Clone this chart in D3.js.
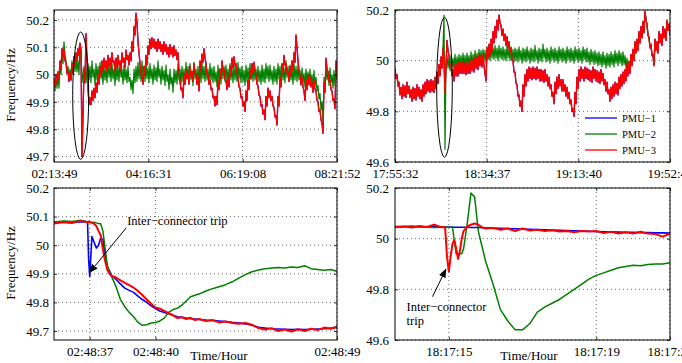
<!DOCTYPE html>
<html><head><meta charset="utf-8">
<script src="https://cdn.jsdelivr.net/npm/d3@7"></script>
<style>
body{margin:0;background:#fff}
svg{display:block}
text{font-family:"Liberation Serif","Times New Roman",serif;fill:#000}
</style>
</head><body>
<svg id="chart" width="682" height="363"></svg>
<script>
// ---------------- data ----------------
const seriesNames = ["PMU\u22121", "PMU\u22122", "PMU\u22123"];

// Top-left: long record, one sample per pixel column (noisy band)
const tlTickLabels = ["02:13:49", "04:16:31", "06:19:08", "08:21:52"];
const tlYTicks = [49.7, 49.8, 49.9, 50, 50.1, 50.2];
const tlPmu3 = [
49.985,49.955,50.0,49.965,50.01,49.985,50.05,50.02,50.095,50.065,50.09,50.05,50.045,50.005,50.01,49.975,
50.005,49.98,50.04,50.005,50.065,50.035,50.08,50.05,50.095,50.07,50.115,50.09,49.70,49.85,50.02,49.97,
50.15,50.05,49.95,49.89,49.915,49.89,49.94,49.905,49.95,49.915,49.97,49.935,50.0,49.965,50.03,49.995,
50.05,50.01,50.06,50.025,50.05,50.01,50.07,50.03,50.06,50.02,50.08,50.045,50.05,50.01,50.06,50.025,
50.07,50.035,50.05,50.015,50.08,50.045,50.06,50.025,50.09,50.055,50.07,50.035,50.08,50.05,50.12,50.085,
50.175,50.145,50.225,50.19,50.12,50.08,50.04,50.0,49.995,49.965,50.03,49.995,50.07,50.035,50.105,50.075,
50.13,50.095,50.135,50.1,50.13,50.095,50.12,50.085,50.13,50.095,50.12,50.085,50.11,50.075,50.12,50.085,
50.11,50.075,50.1,50.065,50.11,50.075,50.1,50.065,50.105,50.07,50.09,50.055,50.08,50.01,49.975,49.945,
49.95,49.915,50.0,49.965,50.02,49.985,50.0,49.965,50.03,49.995,50.01,49.975,50.04,50.005,50.0,49.965,
49.99,49.94,50.05,50.015,50.075,50.045,50.095,50.06,50.04,50.0,50.0,49.965,49.98,49.945,49.95,49.915,
49.92,49.885,49.92,49.89,49.98,49.945,50.02,49.985,50.05,50.015,50.02,49.985,49.98,49.945,49.99,49.955,
50.03,49.995,50.06,50.025,50.065,50.035,50.04,50.005,49.99,49.955,49.95,49.915,49.92,49.885,49.9,49.865,
49.94,49.905,49.98,49.945,50.02,49.985,50.04,50.005,50.045,50.015,50.0,49.965,49.96,49.925,49.92,49.885,
49.89,49.855,49.87,49.835,49.92,49.885,49.95,49.915,49.94,49.905,49.92,49.885,49.88,49.845,49.85,49.815,
49.92,49.885,49.99,49.955,50.04,50.005,50.07,50.035,50.04,50.005,50.01,49.975,50.03,49.995,50.05,50.015,
50.08,50.045,50.145,50.1,50.05,50.015,50.0,49.965,49.99,49.955,49.94,49.905,49.98,49.945,50.0,49.965,
49.99,49.955,49.97,49.935,49.98,49.945,49.94,49.905,49.9,49.865,49.87,49.835,49.82,49.785,49.97,49.935,
50.06,50.02,50.01,49.975,49.98,49.945,49.94,49.905,49.91,49.875,50.05,50.015];
const tlPmu2 = [
49.98,49.94,49.99,49.95,49.995,49.95,50.04,50.0,50.08,50.04,50.12,50.07,50.05,50.01,50.03,49.99,
50.02,49.98,50.05,50.0,50.05,50.01,50.06,50.01,50.05,50.0,50.11,50.05,50.01,49.97,50.03,49.98,
50.02,49.97,50.04,49.98,50.03,49.97,50.05,49.99,50.02,49.96,50.04,49.98,50.03,49.975,50.045,49.985,
50.02,49.965,50.035,49.98,50.025,49.97,50.05,49.99,50.03,49.975,50.04,49.985,50.02,49.96,50.035,49.98,
50.03,49.975,50.045,49.99,50.02,49.965,50.035,49.98,50.02,49.97,50.03,49.975,49.99,49.945,49.98,49.93,
50.02,49.97,50.03,49.975,50.045,49.985,50.03,49.975,50.05,49.99,50.03,49.975,50.04,49.985,50.025,49.97,
50.04,49.985,50.02,49.965,50.035,49.98,50.025,49.975,50.05,49.99,50.02,49.965,50.03,49.98,50.015,49.96,
50.035,49.975,50.0,49.945,50.02,49.965,49.99,49.935,50.02,49.97,50.015,49.965,50.04,49.98,50.02,49.965,
50.03,49.975,50.02,49.965,50.045,49.985,50.03,49.975,50.04,49.98,50.015,49.96,50.045,49.985,50.02,49.965,
50.03,49.975,50.025,49.97,50.045,49.985,50.03,49.975,50.04,49.98,50.02,49.965,50.04,49.98,50.025,49.97,
50.03,49.975,50.01,49.955,50.035,49.975,50.02,49.965,50.045,49.985,50.03,49.975,50.035,49.98,50.02,49.965,
50.04,49.98,50.025,49.97,50.035,49.98,50.03,49.975,50.045,49.985,50.025,49.97,50.03,49.975,50.015,49.96,
50.035,49.975,50.025,49.97,50.04,49.985,50.03,49.975,50.035,49.98,50.02,49.97,50.03,49.975,50.015,49.965,
50.035,49.975,50.02,49.97,50.04,49.985,50.03,49.975,50.035,49.98,50.015,49.965,50.03,49.975,50.02,49.965,
50.04,49.985,50.03,49.975,50.035,49.98,50.025,49.97,50.05,49.99,50.03,49.975,50.035,49.98,50.02,49.965,
50.04,49.98,50.03,49.975,50.035,49.98,50.015,49.96,50.025,49.97,50.005,49.955,50.02,49.965,50.01,49.96,
50.02,49.965,50.0,49.95,50.015,49.96,49.99,49.94,49.96,49.91,49.93,49.87,49.9,49.83,49.99,49.94,
50.035,49.98,50.01,49.96,50.025,49.97,50.0,49.95,50.015,49.96,50.03,49.98];
const tlPmu1 = tlPmu3; // PMU-1 lies underneath PMU-3 in this record

// Top-right: long record, one sample per pixel column
const trTickLabels = ["17:55:32", "18:34:37", "19:13:40", "19:52:44"];
const trYTicks = [49.6, 49.8, 50, 50.2];
const trPmu3 = [
49.97,49.93,49.945,49.9,49.915,49.865,49.895,49.85,49.905,49.86,49.9,49.855,49.915,49.87,49.9,49.855,
49.885,49.84,49.895,49.85,49.89,49.845,49.905,49.86,49.895,49.85,49.885,49.84,49.905,49.86,49.915,49.87,
49.925,49.88,49.92,49.875,49.925,49.88,49.92,49.875,49.935,49.89,49.955,49.91,49.985,49.94,50.015,49.97,
50.05,50.01,49.87,49.98,50.08,50.04,50.02,49.98,49.985,49.94,49.965,49.92,49.985,49.94,49.985,49.94,
49.995,49.95,49.995,49.95,49.995,49.95,49.99,49.945,49.995,49.95,49.99,49.95,50.005,49.96,50.0,49.955,
50.015,49.97,50.01,49.965,50.025,49.98,50.02,49.975,50.025,49.98,49.95,49.92,50.05,50.01,50.065,50.02,
50.085,50.04,50.115,50.07,50.135,50.09,50.16,50.12,50.18,50.15,50.14,50.1,50.125,50.08,50.105,50.06,
50.095,50.05,50.075,50.03,50.05,50.005,50.0,49.955,49.955,49.91,49.905,49.86,49.865,49.82,49.84,49.8,
49.905,49.86,49.945,49.9,49.965,49.92,49.975,49.93,49.97,49.925,49.975,49.93,49.97,49.925,49.975,49.93,
49.965,49.92,49.965,49.92,49.96,49.915,49.965,49.92,49.945,49.9,49.935,49.89,49.905,49.86,49.875,49.83,
49.915,49.87,49.935,49.89,49.945,49.9,49.925,49.88,49.925,49.88,49.905,49.86,49.895,49.85,49.875,49.83,
49.845,49.8,49.81,49.78,49.875,49.83,49.935,49.89,49.965,49.92,49.975,49.93,49.965,49.92,49.975,49.93,
49.97,49.925,49.965,49.92,49.96,49.915,49.975,49.93,49.965,49.92,49.96,49.915,49.955,49.91,49.965,49.92,
49.95,49.905,49.925,49.88,49.915,49.87,49.885,49.84,49.895,49.85,49.905,49.86,49.915,49.87,49.91,49.865,
49.935,49.89,49.945,49.9,49.955,49.91,49.965,49.92,49.985,49.94,49.995,49.95,50.025,49.98,50.045,50.0,
50.075,50.03,50.085,50.04,50.115,50.07,50.135,50.09,50.155,50.11,50.195,50.16,50.145,50.1,50.095,50.05,
50.065,50.02,50.025,49.98,50.085,50.04,50.075,50.03,50.115,50.07,50.105,50.06,50.135,50.09,50.125,50.08,
50.16,50.12,50.145,50.1];
const trPmu2 = [
49.96,49.94,49.935,49.905,49.905,49.875,49.885,49.86,49.895,49.865,49.89,49.865,49.905,49.875,49.89,49.865,
49.875,49.85,49.885,49.855,49.88,49.855,49.895,49.865,49.885,49.86,49.875,49.85,49.895,49.865,49.905,49.875,
49.915,49.885,49.91,49.885,49.915,49.885,49.91,49.885,49.925,49.895,49.945,49.915,49.975,49.945,50.0,49.975,
50.05,50.18,49.65,49.99,50.02,49.97,50.01,49.96,50.02,49.975,50.01,49.965,50.025,49.975,50.015,49.97,
50.025,49.98,50.02,49.97,50.03,49.98,50.02,49.97,50.03,49.985,50.02,49.97,50.035,49.985,50.025,49.975,
50.04,49.99,50.03,49.985,50.045,49.995,50.04,49.99,50.045,50.0,50.04,49.99,50.055,50.005,50.05,50.0,
50.06,50.01,50.05,50.005,50.06,50.01,50.05,50.0,50.06,50.01,50.05,50.005,50.055,50.005,50.045,50.0,
50.06,50.01,50.05,50.0,50.055,50.005,50.045,49.995,50.05,50.0,50.045,49.995,50.055,50.005,50.04,49.99,
50.05,50.0,50.045,49.995,50.055,50.005,50.04,49.99,50.05,50.0,50.045,49.995,50.06,50.005,50.04,49.99,
50.05,50.0,50.045,49.995,50.065,50.01,50.045,49.995,50.05,50.0,50.04,49.99,50.055,50.005,50.045,49.995,
50.05,50.0,50.04,49.99,50.055,50.005,50.045,49.995,50.05,50.0,50.04,49.99,50.055,50.005,50.045,49.995,
50.05,50.0,50.04,49.99,50.055,50.005,50.045,49.995,50.05,50.0,50.04,49.99,50.055,50.005,50.045,49.995,
50.05,49.995,50.035,49.985,50.045,49.995,50.035,49.985,50.04,49.99,50.03,49.98,50.035,49.985,50.025,49.975,
50.035,49.985,50.02,49.97,50.03,49.98,50.025,49.975,50.035,49.985,50.025,49.975,50.04,49.99,50.03,49.98,
50.04,49.99,50.03,49.98,50.035,49.985,50.02,49.97,50.01,49.965,50.0,49.96,50.015,49.985,50.035,50.005,
50.065,50.035,50.075,50.045,50.105,50.075,50.125,50.095,50.145,50.115,50.19,50.165,50.135,50.105,50.085,50.055,
50.055,50.025,50.015,49.985,50.075,50.045,50.065,50.035,50.105,50.075,50.095,50.065,50.125,50.095,50.115,50.085,
50.155,50.125,50.135,50.105];
const trPmu1 = trPmu3;

// Bottom-left: event zoom (seconds past 02:48:00)
const blTickValues = [37, 40, 48.28];
const blTickLabels = ["02:48:37", "02:48:40", "02:48:49"];
const blYTicks = [49.7, 49.8, 49.9, 50, 50.1, 50.2];
const blTime = [35.3,35.8,36.2,36.6,36.9,36.95,37.0,37.1,37.2,37.3,
 37.4,37.5,37.6,37.7,37.8,37.9,38.0,38.2,38.4,38.6,
 38.8,39.0,39.2,39.4,39.6,39.8,40.0,40.2,40.4,40.6,
 40.8,41.0,41.2,41.4,41.6,41.8,42.0,42.3,42.6,42.9,
 43.2,43.5,43.8,44.1,44.4,44.7,45.0,45.3,45.6,45.9,
 46.2,46.5,46.8,47.1,47.4,47.7,48.0,48.3];
const blPmu1 = [50.08,50.081,50.079,50.082,50.08,49.95,49.89,50.03,50.01,49.99,
 50.0,50.025,50.02,49.965,49.925,49.91,49.895,49.88,49.865,49.85,
 49.842,49.835,49.822,49.81,49.80,49.788,49.778,49.77,49.765,49.76,
 49.755,49.75,49.748,49.745,49.743,49.742,49.74,49.738,49.737,49.735,
 49.733,49.73,49.728,49.725,49.72,49.713,49.71,49.708,49.707,49.706,
 49.705,49.706,49.705,49.706,49.707,49.708,49.71,49.713];
const blPmu2 = [50.08,50.085,50.083,50.087,50.082,50.083,50.08,50.08,50.08,50.078,
 50.076,50.075,50.05,49.99,49.93,49.905,49.89,49.855,49.81,49.785,
 49.765,49.75,49.73,49.72,49.722,49.728,49.73,49.735,49.745,49.765,
 49.775,49.78,49.79,49.805,49.82,49.825,49.83,49.84,49.848,49.855,
 49.862,49.872,49.885,49.897,49.907,49.913,49.918,49.92,49.922,49.92,
 49.924,49.922,49.928,49.918,49.915,49.912,49.915,49.908];
const blPmu3 = [50.075,50.08,50.078,50.085,50.08,50.082,50.08,50.078,50.075,50.067,
 50.05,50.035,49.986,49.945,49.915,49.9,49.892,49.887,49.877,49.868,
 49.86,49.852,49.84,49.826,49.81,49.795,49.782,49.778,49.77,49.762,
 49.755,49.745,49.748,49.742,49.746,49.738,49.742,49.735,49.738,49.73,
 49.733,49.728,49.725,49.728,49.722,49.71,49.705,49.71,49.7,49.705,
 49.698,49.706,49.7,49.708,49.703,49.712,49.708,49.716];

// Bottom-right: event zoom (seconds past 18:17:00)
const brTickValues = [15, 19, 21];
const brTickLabels = ["18:17:15", "18:17:19", "18:17:21"];
const brYTicks = [49.6, 49.8, 50, 50.2];
const brTime = [13.5,13.8,14.0,14.2,14.4,14.6,14.8,14.9,14.95,15.0,
 15.05,15.1,15.15,15.2,15.25,15.3,15.35,15.4,15.5,15.6,
 15.7,15.8,15.9,16.0,16.2,16.4,16.6,16.8,17.0,17.2,
 17.4,17.6,17.8,18.0,18.2,18.4,18.6,18.8,19.0,19.2,
 19.4,19.6,19.8,20.0,20.2,20.4,20.6,20.8,21.0];
const brPmu1 = [50.048,50.048,50.048,50.047,50.047,50.047,50.046,50.046,50.046,50.046,
 50.046,50.046,50.045,50.045,50.045,50.045,50.045,50.045,50.045,50.044,
 50.044,50.044,50.043,50.043,50.042,50.041,50.04,50.039,50.038,50.037,
 50.036,50.035,50.034,50.033,50.032,50.031,50.03,50.029,50.028,50.027,
 50.027,50.026,50.025,50.025,50.024,50.024,50.023,50.023,50.022];
const brPmu2 = [50.045,50.047,50.05,50.046,50.045,50.044,50.045,50.045,50.045,50.045,
 50.045,50.045,49.99,49.94,49.94,49.94,49.94,49.96,50.06,50.18,
 50.165,50.03,49.97,49.91,49.82,49.72,49.675,49.64,49.64,49.665,
 49.71,49.73,49.745,49.76,49.78,49.8,49.82,49.84,49.855,49.865,
 49.875,49.885,49.89,49.895,49.893,49.898,49.9,49.9,49.905];
const brPmu3 = [50.045,50.048,50.044,50.05,50.046,50.055,50.045,50.045,49.93,49.87,
 49.93,49.98,49.995,49.96,49.92,49.95,50.0,50.03,50.048,50.055,
 50.06,50.055,50.045,50.04,50.042,50.035,50.04,50.03,50.04,50.032,
 50.035,50.03,50.033,50.028,50.03,50.025,50.03,50.028,50.03,50.022,
 50.027,50.02,50.025,50.02,50.027,50.02,50.018,50.008,50.02];

// ---------------- drawing ----------------
const colors = ["#0000ff", "#008000", "#ff0000"];
const svg = d3.select("#chart");
const defs = svg.append("defs");
defs.append("marker").attr("id", "arrowhead").attr("viewBox", "0 0 10 10")
  .attr("refX", 9).attr("refY", 5).attr("markerWidth", 9).attr("markerHeight", 9)
  .attr("markerUnits", "userSpaceOnUse").attr("orient", "auto")
  .append("path").attr("d", "M0,1 L10,5 L0,9 z").attr("fill", "#000");

function panel(cfg) {
  const {id, x, y} = cfg;
  const [x0, x1] = x.range(), [y1, y0] = y.range();
  defs.append("clipPath").attr("id", "clip" + id).append("rect")
    .attr("x", x0).attr("y", y0).attr("width", x1 - x0).attr("height", y1 - y0);
  const g = svg.append("g");

  const grid = g.append("g").attr("stroke", "#444").attr("stroke-width", 0.8)
    .attr("stroke-dasharray", "1,3");
  grid.selectAll(".gx").data(cfg.xTicks).join("line")
    .attr("x1", d => x(d)).attr("x2", d => x(d)).attr("y1", y0).attr("y2", y1);
  grid.selectAll(".gy").data(cfg.yTicks).join("line")
    .attr("y1", d => y(d)).attr("y2", d => y(d)).attr("x1", x0).attr("x2", x1);

  const lines = g.append("g").attr("clip-path", `url(#clip${id})`);
  cfg.series.forEach((vals, k) => {
    const line = d3.line().x((d, i) => x(cfg.xs[i])).y(d => y(d));
    lines.append("path").datum(vals).attr("fill", "none")
      .attr("stroke", colors[k]).attr("stroke-width", cfg.widths[k])
      .attr("stroke-linejoin", "round").attr("d", line);
  });

  const fmt = (d, i) => cfg.xLabels[i];
  const ax = g.append("g").attr("transform", `translate(0,${y1})`)
    .call(d3.axisBottom(x).tickValues(cfg.xTicks).tickFormat(fmt).tickSize(-3).tickPadding(7));
  ax.selectAll("text").attr("y", 7).attr("dy", "0.71em");
  g.append("g").attr("transform", `translate(0,${y0})`)
    .call(d3.axisTop(x).tickValues(cfg.xTicks).tickFormat("").tickSize(-3));
  g.append("g").attr("transform", `translate(${x0},0)`)
    .call(d3.axisLeft(y).tickValues(cfg.yTicks).tickFormat(d => d3.format("")(+d.toFixed(1))).tickSize(-3).tickPadding(cfg.yPad));
  g.append("g").attr("transform", `translate(${x1},0)`)
    .call(d3.axisRight(y).tickValues(cfg.yTicks).tickFormat("").tickSize(-3));
  g.selectAll(".domain").remove();
  g.selectAll(".tick line").attr("stroke", "#000").attr("stroke-width", 0.8);
  g.selectAll(".tick text").attr("font-family", '"Liberation Serif", serif')
    .attr("font-size", 13).attr("fill", "#000");

  g.append("rect").attr("x", x0).attr("y", y0).attr("width", x1 - x0).attr("height", y1 - y0)
    .attr("fill", "none").attr("stroke", "#000").attr("stroke-width", 1);
  return g;
}

const tlX = d3.scaleLinear().domain([0, tlPmu3.length - 1]).range([54, 337]);
const tlY = d3.scaleLinear().domain([49.6795, 50.2366]).range([162, 10]);
const trX = d3.scaleLinear().domain([0, trPmu3.length - 1]).range([395, 670]);
const trY = d3.scaleLinear().domain([49.6, 50.2]).range([162, 10]);
const blX = d3.scaleLinear().domain([35.37, 48.28]).range([54, 337]);
const blY = d3.scaleLinear().domain([49.6685, 50.2]).range([340, 188]);
const brX = d3.scaleLinear().domain([13.54, 21.0]).range([395, 670]);
const brY = d3.scaleLinear().domain([49.6, 50.2]).range([340, 188]);

const tlN = d3.range(tlPmu3.length), trN = d3.range(trPmu3.length);
const evenTicks = (sc, n) => d3.range(n).map(k => sc.domain()[0] + k * (sc.domain()[1] - sc.domain()[0]) / (n - 1));

const gTL = panel({id: "tl", x: tlX, y: tlY, xs: tlN, xTicks: evenTicks(tlX, 4), xLabels: tlTickLabels,
  yTicks: tlYTicks, yPad: 5, series: [tlPmu1, tlPmu2, tlPmu3], widths: [1.2, 1.2, 1.4]});
const gTR = panel({id: "tr", x: trX, y: trY, xs: trN, xTicks: evenTicks(trX, 4), xLabels: trTickLabels,
  yTicks: trYTicks, yPad: 6, series: [trPmu1, trPmu2, trPmu3], widths: [1.2, 1.2, 1.4]});
const gBL = panel({id: "bl", x: blX, y: blY, xs: blTime, xTicks: blTickValues, xLabels: blTickLabels,
  yTicks: blYTicks, yPad: 5, series: [blPmu1, blPmu2, blPmu3], widths: [1.6, 1.5, 2]});
const gBR = panel({id: "br", x: brX, y: brY, xs: brTime, xTicks: brTickValues, xLabels: brTickLabels,
  yTicks: brYTicks, yPad: 6, series: [brPmu1, brPmu2, brPmu3], widths: [1.6, 1.5, 2]});

// ellipses marking the trip event (centre/extent in data units)
const tlEll = {i: 26.7, r: 8, hi: 50.156, lo: 49.689};
const trEll = {i: 49.5, r: 7.8, hi: 50.171, lo: 49.619};
gTL.append("ellipse").attr("cx", tlX(tlEll.i)).attr("cy", (tlY(tlEll.hi) + tlY(tlEll.lo)) / 2)
  .attr("rx", tlX(tlEll.i + tlEll.r) - tlX(tlEll.i)).attr("ry", (tlY(tlEll.lo) - tlY(tlEll.hi)) / 2)
  .attr("fill", "none").attr("stroke", "#000").attr("stroke-width", 1);
gTR.append("ellipse").attr("cx", trX(trEll.i)).attr("cy", (trY(trEll.hi) + trY(trEll.lo)) / 2)
  .attr("rx", trX(trEll.i + trEll.r) - trX(trEll.i)).attr("ry", (trY(trEll.lo) - trY(trEll.hi)) / 2)
  .attr("fill", "none").attr("stroke", "#000").attr("stroke-width", 1);

const title = (x, y, txt, rot) => svg.append("text").attr("x", x).attr("y", y)
  .attr("font-size", 13).attr("text-anchor", "middle")
  .attr("transform", rot ? `rotate(-90,${x},${y})` : null).text(txt);
title(15, 85, "Frequency/Hz", true);
title(15, 263, "Frequency/Hz", true);
title(219, 360, "Time/Hour");
title(529, 360, "Time/Hour");

gBL.append("line").attr("x1", blX(38.67)).attr("y1", blY(50.061))
  .attr("x2", blX(37.0)).attr("y2", blY(49.905))
  .attr("stroke", "#000").attr("stroke-width", 1).attr("marker-end", "url(#arrowhead)");
gBL.append("text").attr("x", blX(38.71)).attr("y", blY(50.07)).attr("font-size", 12.5)
  .text("Inter\u2212connector trip");
gBR.append("line").attr("x1", brX(14.558)).attr("y1", brY(49.771))
  .attr("x2", brX(14.919)).attr("y2", brY(49.879))
  .attr("stroke", "#000").attr("stroke-width", 1).attr("marker-end", "url(#arrowhead)");
const brT = gBR.append("text").attr("font-size", 12.5);
brT.append("tspan").attr("x", brX(13.854)).attr("y", brY(49.7145)).text("Inter\u2212connector");
brT.append("tspan").attr("x", brX(13.854)).attr("y", brY(49.661)).text("trip");

const leg = svg.append("g");
seriesNames.forEach((name, k) => {
  const yy = 118 + k * 16;
  leg.append("line").attr("x1", 585).attr("x2", 617).attr("y1", yy).attr("y2", yy)
    .attr("stroke", colors[k]).attr("stroke-width", 1.3);
  leg.append("text").attr("x", 622).attr("y", yy + 3.5).attr("font-size", 10.5).text(name);
});
</script>
</body></html>
